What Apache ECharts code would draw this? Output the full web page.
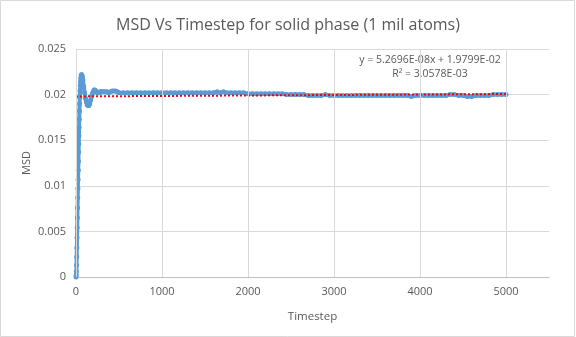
<!DOCTYPE html>
<html>
<head>
<meta charset="utf-8">
<script src="https://cdn.jsdelivr.net/npm/echarts@6/dist/echarts.min.js"></script>
<style>
html,body{margin:0;padding:0;background:#fff;}
#chart{width:576px;height:337px;}
</style>
</head>
<body>
<div id="chart"></div>
<script>
// ---- data ----
const timestep = [
  0,2,4,6,8,10,12,14,16,18,20,22,24,26,28,30,32,34,36,38,40,42,44,
  47,50,53,56,60,65,70,75,80,90,
  100,110,120,130,140,150,160,170,180,190,
  200,210,220,230,240,250,260,270,280,290,
  300,320,340,360,380,400,420,440,460,480,500,
  550,600,650,700,750,800,850,900,950,1000,
  1050,1100,1150,1200,1250,1300,1350,1400,1450,1500,
  1550,1600,1640,1670,1715,1750,1800,1850,1900,1950,
  2000,2050,2100,2150,2200,2250,2300,2350,2400,2450,
  2500,2550,2600,2650,2700,2750,2800,2850,2900,2950,
  3000,3050,3100,3150,3200,3250,3300,3350,3400,3450,
  3500,3550,3600,3650,3700,3750,3800,3850,3900,3950,
  4000,4050,4100,4150,4200,4250,4300,4350,4400,4450,
  4500,4550,4600,4650,4700,4750,4800,4850,4900,4950,
  5000
];
const msd = [
  0.0000,0.0002,0.0006,0.0013,0.0022,0.0032,0.0043,0.0054,0.0065,0.0076,0.0087,0.0097,0.0107,0.0117,0.0127,0.0137,0.0146,0.0155,0.0164,0.0173,0.0182,0.0190,0.0197,
  0.0204,0.0210,0.0214,0.0218,0.0221,0.0222,0.0221,0.0219,0.0216,0.0209,
  0.0202,0.0196,0.0192,0.0189,0.0188,0.0188,0.0190,0.0194,0.0198,0.0201,
  0.0203,0.0205,0.0205,0.0204,0.0203,0.0202,0.0202,0.0202,0.0203,0.0203,
  0.0203,0.0203,0.0203,0.0203,0.0202,0.0203,0.0204,0.0204,0.0204,0.0203,0.0202,
  0.0202,0.0202,0.0202,0.0202,0.0202,0.0202,0.0202,0.0202,0.0202,0.0202,
  0.0202,0.0202,0.0202,0.0202,0.0202,0.0202,0.0202,0.0202,0.0202,0.0202,
  0.0202,0.0202,0.0203,0.0202,0.0203,0.0202,0.0202,0.0202,0.0202,0.0202,
  0.0201,0.0201,0.0201,0.0201,0.0201,0.0201,0.0201,0.0201,0.0201,0.0200,
  0.0200,0.0200,0.0200,0.0200,0.0199,0.0199,0.0199,0.0199,0.0200,0.0199,
  0.0199,0.0199,0.0199,0.0199,0.0199,0.0199,0.0199,0.0199,0.0199,0.0199,
  0.0199,0.0199,0.0199,0.0199,0.0199,0.0199,0.0199,0.0199,0.0198,0.0199,
  0.0199,0.0199,0.0199,0.0199,0.0199,0.0199,0.0199,0.0200,0.0200,0.0199,
  0.0199,0.0198,0.0198,0.0199,0.0199,0.0199,0.0199,0.0200,0.0200,0.0200,
  0.0200
];
// linear trendline endpoints (from y = 5.2696E-08x + 1.9799E-02)
const trendX = [0, 5000];
const trendY = [0.019799, 0.020062];
const trendText = ['y = 5.2696E-08x + 1.9799E-02', 'R\u00B2 = 3.0578E-03'];
const xGridValues = [0, 1000, 2000, 3000, 4000, 5000];

const FONT = '"Open Sans", "Noto Sans", sans-serif';
const GREY = '#595959';

const chart = echarts.init(document.getElementById('chart'), null, {renderer: 'canvas'});
chart.setOption({
  animation: false,
  backgroundColor: '#ffffff',
  title: {
    text: 'MSD Vs Timestep for solid phase (1 mil atoms)',
    left: 'center',
    top: 12,
    textStyle: {fontFamily: FONT, fontSize: 16, fontWeight: 'normal', color: GREY}
  },
  grid: {left: 76, right: 27, top: 49, bottom: 60, containLabel: false},
  xAxis: {
    type: 'value', min: 0, max: 5500, interval: 1000,
    name: 'Timestep', nameLocation: 'middle', nameGap: 34, nameMoveOverlap: false,
    nameTextStyle: {fontFamily: FONT, fontSize: 11.5, color: GREY},
    axisLine: {show: true, lineStyle: {color: '#BFBFBF', width: 1}},
    axisTick: {show: false},
    splitLine: {show: false},
    axisLabel: {fontFamily: FONT, fontSize: 11, color: GREY, margin: 9, showMaxLabel: false,
                formatter: v => String(v)}
  },
  yAxis: {
    type: 'value', min: 0, max: 0.025, interval: 0.005,
    name: 'MSD', nameLocation: 'middle', nameGap: 44, nameRotate: 90, nameMoveOverlap: false,
    nameTextStyle: {fontFamily: FONT, fontSize: 11, color: GREY},
    axisLine: {show: false},
    axisTick: {show: false},
    splitLine: {show: true, lineStyle: {color: '#D9D9D9', width: 1}},
    axisLabel: {fontFamily: FONT, fontSize: 11, color: GREY, margin: 10}
  },
  graphic: [
    {type: 'rect', z: -10, silent: true,
     shape: {x: 0.5, y: 0.5, width: 574, height: 336},
     style: {fill: 'none', stroke: '#D9D9D9', lineWidth: 1}},
    {type: 'text', x: 430, y: 60, silent: true,
     style: {text: trendText[0], align: 'center', verticalAlign: 'middle',
             font: '10.5px ' + FONT, fill: GREY}},
    {type: 'text', x: 430, y: 74, silent: true,
     style: {text: trendText[1], align: 'center', verticalAlign: 'middle',
             font: '10.5px ' + FONT, fill: GREY}}
  ],
  series: [
    {
      name: 'gridX', type: 'line', data: [], z: 0, silent: true,
      markLine: {
        silent: true, symbol: 'none', label: {show: false},
        lineStyle: {color: '#D9D9D9', type: 'solid', width: 1},
        emphasis: {disabled: true},
        data: xGridValues.map(v => ({xAxis: v}))
      }
    },
    {
      name: 'MSD', type: 'line', z: 2,
      data: timestep.map((t, i) => [t, msd[i]]),
      showSymbol: true, showAllSymbol: true, symbol: 'circle', symbolSize: 5,
      itemStyle: {color: '#5B9BD5', borderWidth: 0},
      lineStyle: {color: '#5B9BD5', width: 4},
      emphasis: {disabled: true}
    },
    {
      name: 'Trend', type: 'line', z: 3, symbol: 'none',
      data: trendX.map((t, i) => [t, trendY[i]]),
      lineStyle: {color: '#FF0000', width: 2, type: [2, 2]},
      emphasis: {disabled: true}
    }
  ]
});
</script>
</body>
</html>
